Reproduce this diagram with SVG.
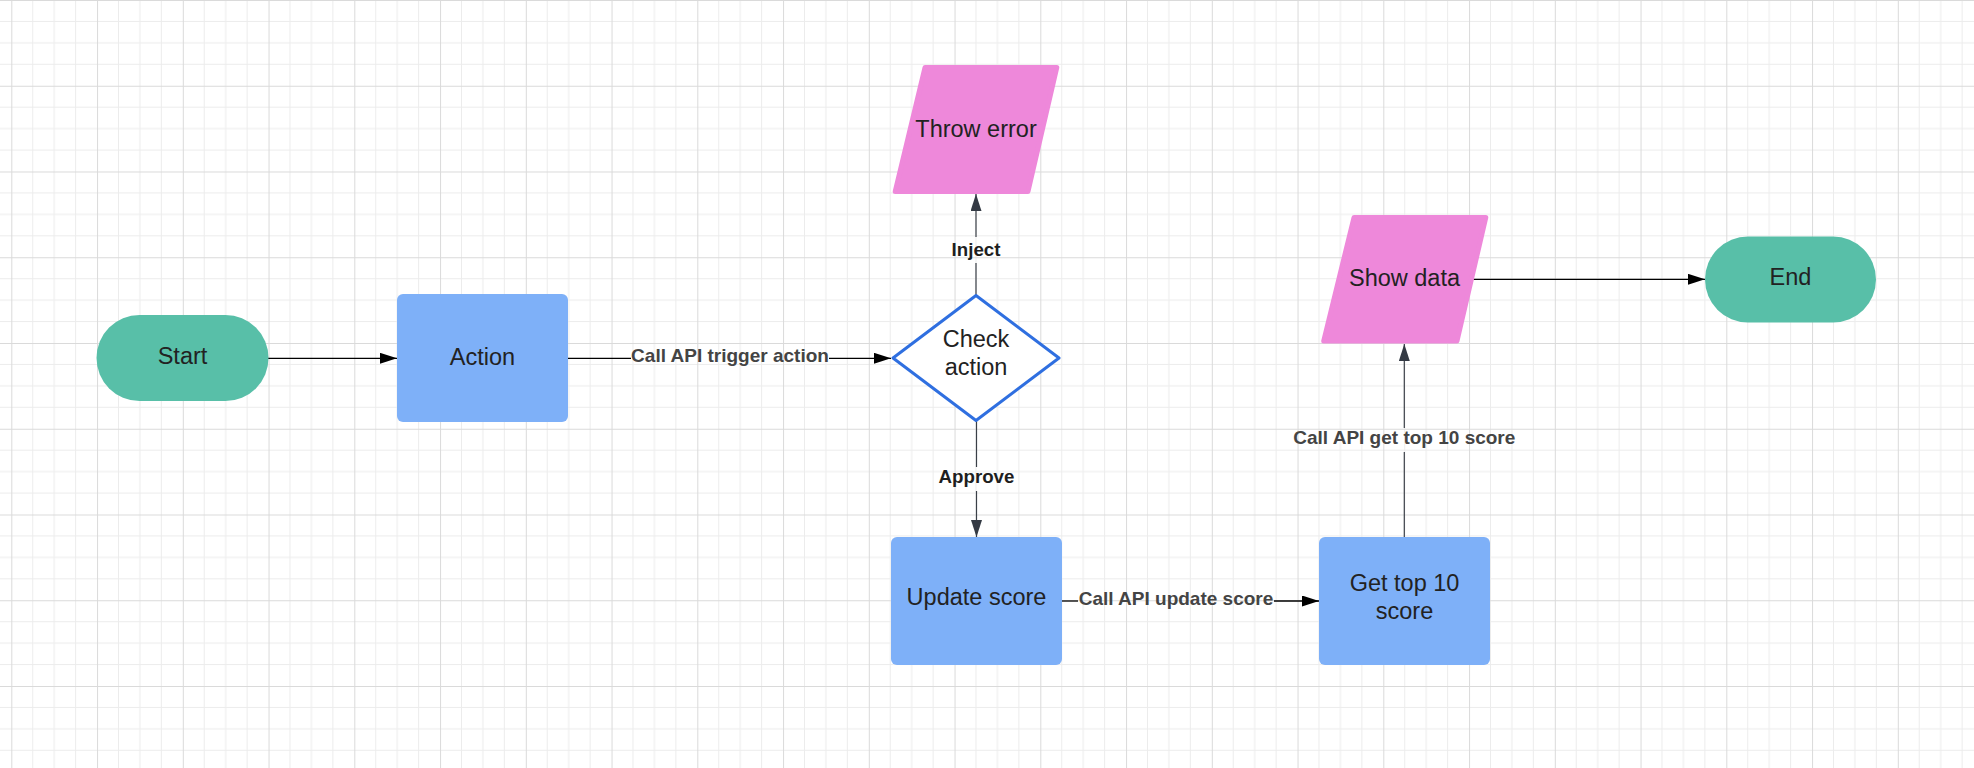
<svg xmlns="http://www.w3.org/2000/svg" width="1974" height="768" viewBox="0 0 1974 768">
  <style>
    .t { font-family: "Liberation Sans", Arial, sans-serif; font-size: 23.5px; fill: #222222; text-anchor: middle; }
    .lbl { font-family: "Liberation Sans", Arial, sans-serif; font-size: 19px; font-weight: bold; fill: #444444; text-anchor: middle; }
    .lbl2 { font-family: "Liberation Sans", Arial, sans-serif; font-size: 18.7px; font-weight: bold; fill: #1e1e1e; text-anchor: middle; }
    .term { fill: #58bfa8; }
    .proc { fill: #7eb0f8; }
    .io { fill: #ee88da; stroke: #ee88da; stroke-width: 5; stroke-linejoin: round; }
    .dec { fill: #ffffff; stroke: #2f6fe0; stroke-width: 3; stroke-linejoin: round; }
    .cb { fill: none; stroke: #000000; stroke-width: 1.3; }
    .cg { fill: none; stroke: #3a3f47; stroke-width: 1.2; }
  </style>
  <defs>
    <pattern id="grid" patternUnits="userSpaceOnUse" x="11.3" y="0" width="85.75" height="85.75">
      <g stroke="#ececec" stroke-width="1" fill="none">
        <line x1="21.44" y1="0" x2="21.44" y2="85.75"/>
        <line x1="42.88" y1="0" x2="42.88" y2="85.75"/>
        <line x1="64.31" y1="0" x2="64.31" y2="85.75"/>
      </g>
      <g stroke="#ececec" stroke-width="1" fill="none" transform="translate(0,-11.3)">
        <line x1="0" y1="32.74" x2="85.75" y2="32.74"/>
        <line x1="0" y1="54.18" x2="85.75" y2="54.18"/>
        <line x1="0" y1="75.61" x2="85.75" y2="75.61"/>
      </g>
      <g stroke="#dadada" stroke-width="1" fill="none">
        <line x1="0.5" y1="0" x2="0.5" y2="85.75"/>
        <line x1="0" y1="0.5" x2="85.75" y2="0.5"/>
      </g>
    </pattern>
    <marker id="ahB" viewBox="0 0 17 11" refX="17" refY="5.5" markerWidth="17" markerHeight="11" markerUnits="userSpaceOnUse" orient="auto">
      <path d="M0,0 L17,5.5 L0,11 Z" fill="#000000"/>
    </marker>
    <marker id="ahG" viewBox="0 0 17 11" refX="17" refY="5.5" markerWidth="17" markerHeight="11" markerUnits="userSpaceOnUse" orient="auto">
      <path d="M0,0 L17,5.5 L0,11 Z" fill="#343a44"/>
    </marker>
  </defs>

  <rect x="0" y="0" width="1974" height="768" fill="#ffffff"/>
  <rect x="0" y="0" width="1974" height="768" fill="url(#grid)"/>

  <g id="connectors">
    <!-- Start -> Action -->
    <line class="cb" x1="268" y1="358.3" x2="397" y2="358.3" marker-end="url(#ahB)"/>
    <!-- Action -> Check action -->
    <line class="cb" x1="568" y1="358.3" x2="631" y2="358.3"/>
    <line class="cb" x1="829" y1="358.3" x2="891" y2="358.3" marker-end="url(#ahB)"/>
    <text class="lbl" x="730" y="362.3">Call API trigger action</text>
    <!-- Check action -> Throw error -->
    <line class="cg" x1="976" y1="295" x2="976" y2="263"/>
    <line class="cg" x1="976" y1="237" x2="976" y2="194" marker-end="url(#ahG)"/>
    <text class="lbl2" x="976" y="256">Inject</text>
    <!-- Check action -> Update score -->
    <line class="cg" x1="976.5" y1="421" x2="976.5" y2="467"/>
    <line class="cg" x1="976.5" y1="491" x2="976.5" y2="537" marker-end="url(#ahG)"/>
    <text class="lbl2" x="976.5" y="483">Approve</text>
    <!-- Update score -> Get top 10 score -->
    <line class="cb" x1="1062" y1="601" x2="1078" y2="601"/>
    <line class="cb" x1="1274" y1="601" x2="1319" y2="601" marker-end="url(#ahB)"/>
    <text class="lbl" x="1176" y="605">Call API update score</text>
    <!-- Get top 10 score -> Show data -->
    <line class="cg" x1="1404.3" y1="537" x2="1404.3" y2="452"/>
    <line class="cg" x1="1404.3" y1="428" x2="1404.3" y2="344" marker-end="url(#ahG)"/>
    <text class="lbl" x="1404.3" y="444.3">Call API get top 10 score</text>
    <!-- Show data -> End -->
    <line class="cb" x1="1472" y1="279.3" x2="1705" y2="279.3" marker-end="url(#ahB)"/>
  </g>

  <g id="start">
    <rect class="term" x="96.5" y="315" width="172" height="86" rx="43" ry="43"/>
    <text class="t" x="182.5" y="364">Start</text>
  </g>

  <g id="action">
    <rect class="proc" x="397" y="294" width="171" height="128" rx="6" ry="6"/>
    <text class="t" x="482.5" y="365">Action</text>
  </g>

  <g id="check-action">
    <polygon class="dec" points="893,358 976,295.5 1059,358 976,420.5"/>
    <text class="t" x="976" y="346.7">Check</text>
    <text class="t" x="976" y="375">action</text>
  </g>

  <g id="throw-error">
    <polygon class="io" points="925,67.5 1056.8,67.5 1028,191.5 895.2,191.5"/>
    <text class="t" x="976" y="136.7">Throw error</text>
  </g>

  <g id="update-score">
    <rect class="proc" x="891" y="537" width="171" height="128" rx="6" ry="6"/>
    <text class="t" x="976.5" y="605">Update score</text>
  </g>

  <g id="get-top-10-score">
    <rect class="proc" x="1319" y="537" width="171" height="128" rx="6" ry="6"/>
    <text class="t" x="1404.5" y="590.7">Get top 10</text>
    <text class="t" x="1404.5" y="619">score</text>
  </g>

  <g id="show-data">
    <polygon class="io" points="1354,217.5 1485.8,217.5 1457,341 1323.7,341"/>
    <text class="t" x="1404.5" y="286">Show data</text>
  </g>

  <g id="end">
    <rect class="term" x="1705" y="236.5" width="171" height="86" rx="43" ry="43"/>
    <text class="t" x="1790.5" y="285">End</text>
  </g>
</svg>
